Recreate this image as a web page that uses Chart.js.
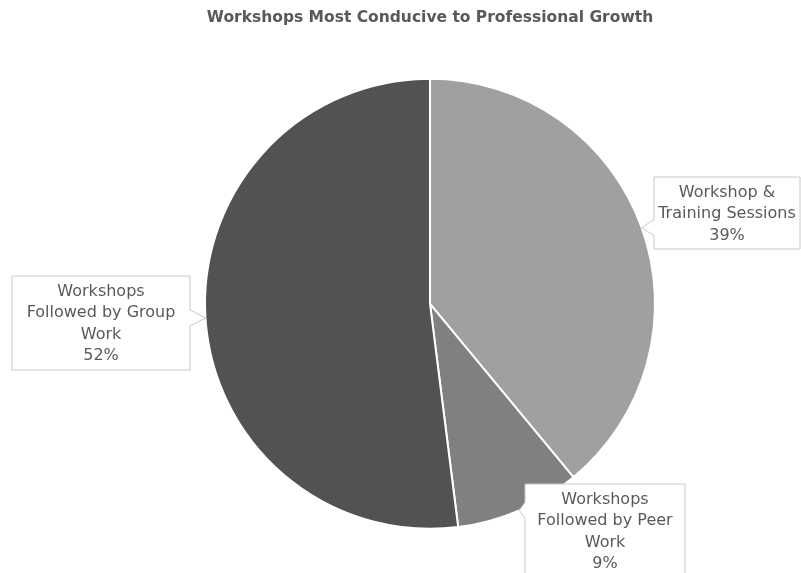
<!DOCTYPE html>
<html>
<head>
<meta charset="utf-8">
<script src="https://cdn.jsdelivr.net/npm/chart.js@4"></script>
<style>
html,body{margin:0;padding:0;background:#fff;}
#wrap{width:801px;height:573px;position:relative;}
</style>
</head>
<body>
<div id="wrap"><canvas id="c" width="801" height="573"></canvas></div>
<script>
const categories = [
  ["Workshop &", "Training Sessions"],
  ["Workshops", "Followed by Peer", "Work"],
  ["Workshops", "Followed by Group", "Work"]
];
const values = [39, 9, 52];
const sliceColors = ["#a0a0a0", "#808080", "#525252"];
const titleText = "Workshops Most Conducive to Professional Growth";

// callout box layout per slice: box rect and which side the pointer is on
const calloutBoxes = [
  {x: 654, y: 177, w: 146, h: 72, side: "left"},
  {x: 525, y: 484, w: 160, h: 96, side: "left"},
  {x: 12, y: 276, w: 178, h: 94, side: "right"}
];

const calloutPlugin = {
  id: "callouts",
  afterDatasetsDraw(chart) {
    const ctx = chart.ctx;
    const meta = chart.getDatasetMeta(0);
    const total = values.reduce((a, b) => a + b, 0);
    meta.data.forEach((arc, i) => {
      const p = arc.getProps(["x", "y", "startAngle", "endAngle", "outerRadius"], true);
      const mid = (p.startAngle + p.endAngle) / 2;
      const tx = p.x + Math.cos(mid) * p.outerRadius;
      const ty = p.y + Math.sin(mid) * p.outerRadius;
      const b = calloutBoxes[i];
      ctx.save();
      ctx.beginPath();
      const half = 8;
      let py = Math.min(Math.max(ty, b.y + half + 2), b.y + b.h - half - 2);
      if (b.side === "left") {
        ctx.moveTo(b.x, b.y);
        ctx.lineTo(b.x + b.w, b.y);
        ctx.lineTo(b.x + b.w, b.y + b.h);
        ctx.lineTo(b.x, b.y + b.h);
        ctx.lineTo(b.x, py + half);
        ctx.lineTo(tx, ty);
        ctx.lineTo(b.x, py - half);
        ctx.closePath();
      } else {
        ctx.moveTo(b.x, b.y);
        ctx.lineTo(b.x + b.w, b.y);
        ctx.lineTo(b.x + b.w, py - half);
        ctx.lineTo(tx, ty);
        ctx.lineTo(b.x + b.w, py + half);
        ctx.lineTo(b.x + b.w, b.y + b.h);
        ctx.lineTo(b.x, b.y + b.h);
        ctx.closePath();
      }
      ctx.fillStyle = "#ffffff";
      ctx.fill();
      ctx.strokeStyle = "#c8c8c8";
      ctx.lineWidth = 1;
      ctx.stroke();
      const lines = categories[i].concat([Math.round(values[i] / total * 100) + "%"]);
      ctx.fillStyle = "#595959";
      ctx.font = "16px 'DejaVu Sans'";
      ctx.textAlign = "center";
      ctx.textBaseline = "middle";
      const lh = 21.5;
      const cx = b.x + b.w / 2;
      const startY = b.y + 15.5;
      lines.forEach((ln, k) => ctx.fillText(ln, cx, startY + k * lh));
      ctx.restore();
    });
  }
};

new Chart(document.getElementById("c"), {
  type: "pie",
  data: {
    labels: categories,
    datasets: [{
      data: values,
      backgroundColor: sliceColors,
      borderColor: "#ffffff",
      borderWidth: 2
    }]
  },
  options: {
    responsive: false,
    animation: false,
    layout: {padding: {left: 204, right: 145, top: 0, bottom: 42}},
    plugins: {
      legend: {display: false},
      tooltip: {enabled: false},
      title: {
        display: true,
        text: titleText,
        color: "#595959",
        font: {family: "'DejaVu Sans'", size: 15.5, weight: "bold"},
        padding: {top: 9, bottom: 49}
      }
    }
  },
  plugins: [calloutPlugin]
});
</script>
</body>
</html>
